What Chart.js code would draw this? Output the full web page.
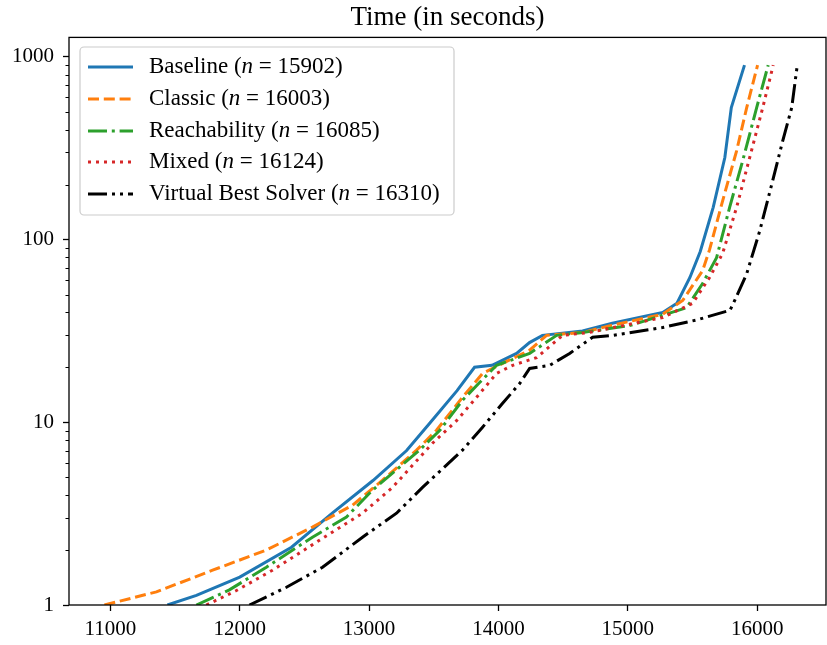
<!DOCTYPE html>
<html>
<head>
<meta charset="utf-8">
<script src="https://cdn.jsdelivr.net/npm/chart.js@4"></script>
<style>
html, body { margin: 0; padding: 0; background: #fff; }
#chart { display: block; }
</style>
</head>
<body>
<canvas id="chart" width="827" height="645"></canvas>
<script>
// Solved instances (x) against time in seconds (y)
const baselineSolved = [11441, 11665, 12000, 12400, 12720, 13030, 13290, 13470, 13680, 13815, 13950, 14140, 14240, 14340, 14650, 14880, 15270, 15380, 15480, 15560, 15660, 15750, 15800, 15902];
const baselineTime = [1, 1.13, 1.42, 2.07, 3.2, 4.8, 7.0, 9.9, 14.9, 20.0, 20.5, 23.8, 27.3, 29.9, 31.6, 34.8, 39.9, 44.8, 62, 86, 150, 281, 527, 900];

const classicSolved = [10954, 11356, 11790, 12206, 12562, 12872, 13104, 13367, 13521, 13722, 13877, 14032, 14241, 14372, 14650, 14880, 15270, 15424, 15578, 15632, 15733, 15841, 15919, 16003];
const classicTime = [1, 1.18, 1.55, 2.0, 2.67, 3.52, 4.82, 7.04, 9.04, 13.7, 18.5, 21.0, 24.8, 29.9, 31, 34, 39, 46.4, 67.6, 88, 163, 306, 527, 900];

const reachSolved = [11665, 11920, 12206, 12562, 12825, 13026, 13390, 13545, 13722, 13854, 13985, 14241, 14450, 14650, 15014, 15269, 15455, 15578, 15686, 15787, 15888, 15996, 16085];
const reachTime = [1, 1.21, 1.61, 2.35, 3.03, 4.25, 7.04, 9.0, 13.2, 16.5, 20.5, 23.8, 29.9, 31, 33.8, 38.5, 42.4, 57.5, 79.5, 150, 270, 527, 900];

const mixedSolved = [11742, 11974, 12253, 12616, 12949, 13181, 13490, 13676, 13831, 13985, 14110, 14295, 14496, 14700, 15269, 15501, 15632, 15733, 15841, 15942, 16043, 16124];
const mixedTime = [1, 1.2, 1.55, 2.26, 3.18, 4.4, 7.68, 10.2, 13.7, 18.5, 20.5, 22.6, 29.9, 31, 37.4, 44.8, 62, 84, 150, 281, 527, 900];

const vbsSolved = [12075, 12361, 12640, 12949, 13212, 13413, 13722, 13877, 14032, 14164, 14241, 14396, 14550, 14728, 14882, 15269, 15532, 15790, 15830, 15919, 16019, 16120, 16197, 16267, 16310];
const vbsTime = [1, 1.25, 1.61, 2.35, 3.18, 4.4, 7.04, 9.4, 12.7, 16.3, 19.7, 20.5, 23.8, 29.2, 29.9, 33.0, 36.3, 41, 47, 65, 111, 210, 346, 527, 900];

const seriesNames = ['Baseline', 'Classic', 'Reachability', 'Mixed', 'Virtual Best Solver'];
const seriesCounts = [15902, 16003, 16085, 16124, 16310];
const xTicks = [11000, 12000, 13000, 14000, 15000, 16000];
const yTicks = [1, 10, 100, 1000];

const serif = '"Liberation Serif", "DejaVu Serif", serif';
const lw = 3;

const styles = [
    { color: '#1f77b4', dash: [] },
    { color: '#ff7f0e', dash: [11, 4.8] },
    { color: '#2ca02c', dash: [19, 4.8, 3, 4.8] },
    { color: '#d62728', dash: [3, 5] },
    { color: '#000000', dash: [19, 5, 3, 5, 3, 5] }
];

function toPoints(xs, ys) {
    return xs.map((x, i) => ({ x: x, y: ys[i] }));
}

const allPoints = [
    toPoints(baselineSolved, baselineTime),
    toPoints(classicSolved, classicTime),
    toPoints(reachSolved, reachTime),
    toPoints(mixedSolved, mixedTime),
    toPoints(vbsSolved, vbsTime)
];

const datasets = allPoints.map((pts, i) => ({
    label: seriesNames[i],
    data: pts,
    borderColor: styles[i].color,
    borderDash: styles[i].dash,
    borderWidth: lw,
    pointRadius: 0,
    tension: 0,
    fill: false,
    order: 4 - i // black drawn on top
}));

// frame, minor log ticks and the boxed legend
const decorPlugin = {
    id: 'decor',
    afterDraw(chart) {
        const ctx = chart.ctx;
        const area = chart.chartArea;
        const yScale = chart.scales.y;
        ctx.save();
        ctx.strokeStyle = '#000';
        ctx.lineWidth = 1.3;
        ctx.strokeRect(area.left, area.top, area.right - area.left, area.bottom - area.top);

        // minor ticks on the log axis
        ctx.lineWidth = 1;
        for (let d = 1; d <= 1000; d *= 10) {
            for (let m = 2; m <= 9; m++) {
                const v = d * m;
                if (v > yScale.max) break;
                const py = Math.round(yScale.getPixelForValue(v)) + 0.5;
                ctx.beginPath();
                ctx.moveTo(area.left, py);
                ctx.lineTo(area.left - 3.5, py);
                ctx.stroke();
            }
        }

        // legend box
        const bx = 80, by = 47, bw = 374, bh = 168;
        ctx.beginPath();
        ctx.roundRect(bx, by, bw, bh, 4);
        ctx.fillStyle = 'rgba(255,255,255,0.85)';
        ctx.fill();
        ctx.strokeStyle = '#cccccc';
        ctx.lineWidth = 1.2;
        ctx.stroke();

        const rowY = [67, 99, 131, 162, 194];
        ctx.textBaseline = 'middle';
        seriesNames.forEach((name, i) => {
            const y = rowY[i];
            ctx.beginPath();
            ctx.setLineDash(styles[i].dash);
            ctx.strokeStyle = styles[i].color;
            ctx.lineWidth = lw;
            ctx.moveTo(88, y);
            ctx.lineTo(133, y);
            ctx.stroke();
            ctx.setLineDash([]);

            ctx.fillStyle = '#000';
            let x = 149;
            const parts = [
                [name + ' (', '23px ' + serif],
                ['n', 'italic 23px ' + serif],
                [' = ' + seriesCounts[i] + ')', '23px ' + serif]
            ];
            parts.forEach(([txt, font]) => {
                ctx.font = font;
                ctx.fillText(txt, x, y);
                x += ctx.measureText(txt).width;
            });
        });
        ctx.restore();
    }
};

const ctx = document.getElementById('chart').getContext('2d');
new Chart(ctx, {
    type: 'line',
    data: { datasets: datasets },
    options: {
        responsive: false,
        animation: false,
        devicePixelRatio: 1,
        layout: { padding: { left: 0, right: 1, top: 0, bottom: 0 } },
        plugins: {
            legend: { display: false },
            tooltip: { enabled: false },
            title: {
                display: true,
                fullSize: false,
                text: 'Time (in seconds)',
                color: '#000',
                font: { family: serif, size: 27, weight: 'normal', lineHeight: 1.2 },
                padding: { top: 2, bottom: 3 }
            }
        },
        scales: {
            x: {
                type: 'linear',
                min: 10680,
                max: 16532,
                afterBuildTicks: (scale) => { scale.ticks = xTicks.map(v => ({ value: v })); },
                afterFit: (scale) => { scale.height = 40; },
                grid: { display: true, drawOnChartArea: false, drawTicks: true, tickLength: 6, tickColor: '#000', tickWidth: 1.3 },
                border: { display: false },
                ticks: {
                    color: '#000',
                    font: { family: serif, size: 21 },
                    padding: 6,
                    maxRotation: 0,
                    callback: (v) => String(v)
                }
            },
            y: {
                type: 'logarithmic',
                min: 1,
                max: 1277,
                afterBuildTicks: (scale) => { scale.ticks = yTicks.map(v => ({ value: v })); },
                afterFit: (scale) => { scale.width = 69; },
                grid: { display: true, drawOnChartArea: false, drawTicks: true, tickLength: 6, tickColor: '#000', tickWidth: 1.3 },
                border: { display: false },
                ticks: {
                    color: '#000',
                    font: { family: serif, size: 21 },
                    padding: 9,
                    callback: (v) => String(v)
                }
            }
        }
    },
    plugins: [decorPlugin]
});
</script>
</body>
</html>
